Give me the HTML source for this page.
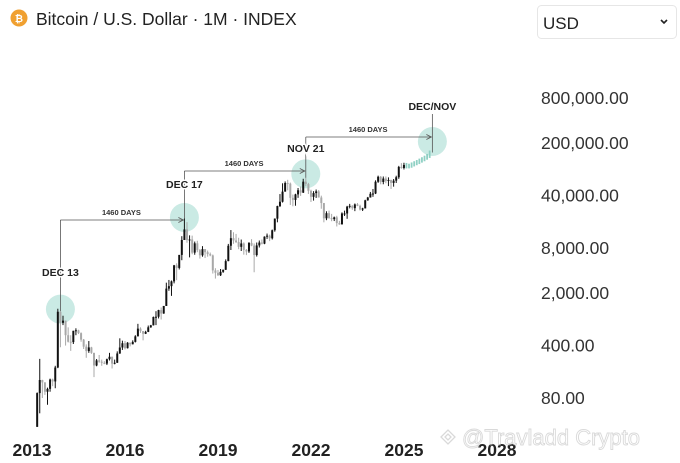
<!DOCTYPE html>
<html><head><meta charset="utf-8"><style>
body{margin:0;background:#fff;width:680px;height:463px;overflow:hidden;font-family:"Liberation Sans",sans-serif;}
svg{position:absolute;left:0;top:0}
</style></head><body>
<svg id="c" width="680" height="463">
  <g>
    <circle cx="19" cy="18" r="8.5" fill="#f0a030"/>
    <text x="19" y="22" font-size="10" font-weight="bold" fill="#fff" text-anchor="middle">₿</text>
    <text x="36" y="25" font-size="17.5" fill="#222">Bitcoin / U.S. Dollar · 1M · INDEX</text>
  </g>
  <g>
    <rect x="537.5" y="5.5" width="139" height="33" rx="4" fill="#fff" stroke="#e6e6e6"/>
    <text x="543" y="29" font-size="17" fill="#222">USD</text>
    <path d="M661 20 l3 3 l3 -3" stroke="#222" stroke-width="1.6" fill="none"/>
  </g>
  <g id="yaxis"></g>
  <g id="xaxis"></g>
  <g id="circles"></g>
  <g id="candles"></g>
  <g id="annot"></g>
  <g opacity="0.55">
    <path d="M441 437 l7 -7 l7 7 l-7 7z M445 437 l3 -3 l3 3 l-3 3z" fill="none" stroke="#bbb" stroke-width="1.3"/>
    <text x="462" y="445" font-size="22" fill="#fff" stroke="#bbb" stroke-width="0.9">@Travladd Crypto</text>
  </g>
</svg>
<script>
const yTicks=[800000,200000,40000,8000,2000,400,80];
const yTickLabels=["800,000.00","200,000.00","40,000.00","8,000.00","2,000.00","400.00","80.00"];
const xTicks=[2013,2016,2019,2022,2025,2028];
const firstOpen=33;
// monthly data from Mar 2013 to Jan 2025
const closes=[93,139,129,97,106,141,133,204,1130,805,
860,550,450,445,630,640,586,480,387,338,378,320,
217,254,244,236,230,263,284,230,236,314,377,430,
369,437,416,448,531,673,624,575,609,701,745,963,
970,1190,1070,1350,2300,2480,2870,4700,4340,6470,10230,14160,
10220,10400,6940,9240,7490,6390,7730,7030,6630,6370,4020,3740,
3460,3850,4100,5350,8570,10820,10080,9600,8290,9200,7550,7190,
9350,8600,6440,8660,9460,9140,11350,11680,10780,13800,19700,29000,
33100,45200,58800,57700,37300,35000,41500,47100,43800,61300,57000,46300,
38500,43200,45500,37700,31800,19900,23300,20100,19400,20500,17200,16500,
23100,23100,28500,29200,27200,30500,29200,26000,27000,34600,37700,42300,
42600,61200,71300,60700,67500,62700,64600,59000,63300,70200,96400,93400,
102400];
const highs=[95,266,140,130,110,145,145,215,1240,1150,
1000,860,700,550,630,680,650,600,490,415,460,385,
320,265,300,260,248,268,320,285,260,335,500,465,
460,445,440,470,550,780,700,625,630,740,755,975,
1150,1200,1290,1350,2760,3000,2950,4760,5000,6470,11500,19800,
17700,11800,11700,9750,9990,7750,8470,7750,7400,6960,6540,4300,
4070,4200,4130,5640,9070,13880,12980,12330,10950,10370,9510,7750,
9580,10500,9190,9470,10070,10390,11450,12470,12070,14100,19860,29300,
41900,58300,61800,64900,59600,41300,42300,50500,52900,67000,69000,59100,
47900,45800,48200,47400,39900,31900,24700,25200,22800,21000,21500,18400,
23900,25200,29200,31000,29800,31400,31800,30200,27500,35200,38400,44700,
48900,63900,73800,72800,71900,72000,70000,65100,66500,73600,99600,108300,
109600];
const lows=[33,50,80,88,65,97,115,108,200,380,
750,400,440,340,420,550,570,450,360,275,320,310,
152,212,236,215,226,220,253,198,225,235,310,350,
355,365,390,415,440,530,590,470,570,605,690,740,
750,920,890,1060,1350,2150,1840,2700,2980,4140,5500,10900,
9400,6000,6600,6500,7030,5780,6120,5880,6130,6210,3650,3130,
3400,3390,3730,4080,5330,7520,9100,9320,7710,7300,6520,6430,
6870,8450,3800,6150,8120,8930,8990,10570,9880,10380,13200,17600,
28130,32300,45000,47000,30000,28800,29300,37300,39600,43300,53300,42000,
32900,34300,37200,37600,26700,17600,18800,19600,18200,18300,15500,16300,
16500,21400,19600,27000,25800,24800,28900,25300,24900,26900,34100,37600,
38500,41900,59100,56500,56600,58400,53500,49000,52600,58900,66800,91300,
89200];
// projected path Feb 2025 - Nov 2025 (teal)
const projCloses=[98000,100000,104000,108000,112000,117000,122000,128000,135000,150000];
const events=["DEC 13","DEC 17","NOV 21","DEC/NOV"];
const eventMonth=[9,57,104,153];
const eventValue=[1150,19800,69000,150000];
const spanLabels=["1460 DAYS","1460 DAYS","1460 DAYS"];

const NS="http://www.w3.org/2000/svg";
function X(i){return 31+(i+2)*2.583;}
function Y(v){return 98+75*Math.log10(800000/v);}
function yearX(yr){return 31+(yr-2013)*31.0;}
function mk(tag,attrs,parent){const e=document.createElementNS(NS,tag);for(const k in attrs)e.setAttribute(k,attrs[k]);parent.appendChild(e);return e;}

const ya=document.getElementById('yaxis');
yTicks.forEach((v,i)=>{const t=mk('text',{x:541,y:Y(v)+6,'font-size':17.5,fill:'#333'},ya);t.textContent=yTickLabels[i];

});
const xa=document.getElementById('xaxis');
xTicks.forEach(yr=>{const t=mk('text',{x:yearX(yr)+1,y:456,'font-size':17.5,'font-weight':'bold',fill:'#222','text-anchor':'middle'},xa);t.textContent=yr;

});

const circleDy=[-2,-1,-4,-11];
const cg=document.getElementById('circles');
eventMonth.forEach((m,i)=>{const c=mk('circle',{cx:X(m)+1,cy:Y(eventValue[i])+circleDy[i],r:14.5,fill:'#c4e8e1',opacity:0.9},cg);

});

const g=document.getElementById('candles');
let prev=firstOpen;
closes.forEach((c,i)=>{
  const o=prev,up=c>=o,col=up?'#111':'#a8a8a8',x=X(i);
  const w=mk('line',{x1:x+1,x2:x+1,y1:Y(highs[i]),y2:Y(lows[i]),stroke:col,'stroke-width':1},g);
  
  
  const top=Y(Math.max(o,c)),bot=Y(Math.min(o,c));
  const r=mk('rect',{x:x,y:top,width:2,height:Math.max(1,bot-top),fill:col},g);
  
  
  prev=c;
});
projCloses.forEach((c,j)=>{
  const i=closes.length+j,o=prev,x=X(i);
  const top=Y(Math.max(o,c))-2,bot=Y(Math.min(o,c))+2;
  const r=mk('rect',{x:x,y:top,width:1.8,height:bot-top,fill:'#8fd0c4'},g);
  
  
  prev=c;
});

const a=document.getElementById('annot');
const spanY=[220,171,137];
const labelY=[276,188,152,110];
eventMonth.forEach((m,i)=>{
  const x=X(m)+1;
  const top=i<3?spanY[i]:114;
  mk('line',{x1:x,x2:x,y1:top,y2:Y(eventValue[i]),stroke:'#555','stroke-width':0.8},a);
  const t=mk('text',{x:x,y:labelY[i],'font-size':10.5,'font-weight':'bold',fill:'#222','text-anchor':'middle',stroke:'#fff','stroke-width':3,'paint-order':'stroke'},a);
  t.textContent=events[i];
  
  
  if(i<3){
    const x2=X(eventMonth[i+1])-1, yy=spanY[i];
    mk('line',{x1:x,x2:x2,y1:yy,y2:yy,stroke:'#555','stroke-width':0.8},a);
    mk('path',{d:`M${x2-4} ${yy-2.5} L${x2+1} ${yy} L${x2-4} ${yy+2.5}`,fill:'none',stroke:'#555','stroke-width':0.8},a);
    const s=mk('text',{x:(x+x2)/2,y:yy-5,'font-size':7.5,'font-weight':'bold',fill:'#333','text-anchor':'middle'},a);
    s.textContent=spanLabels[i];
    
    
  }
});
</script>
</body></html>
